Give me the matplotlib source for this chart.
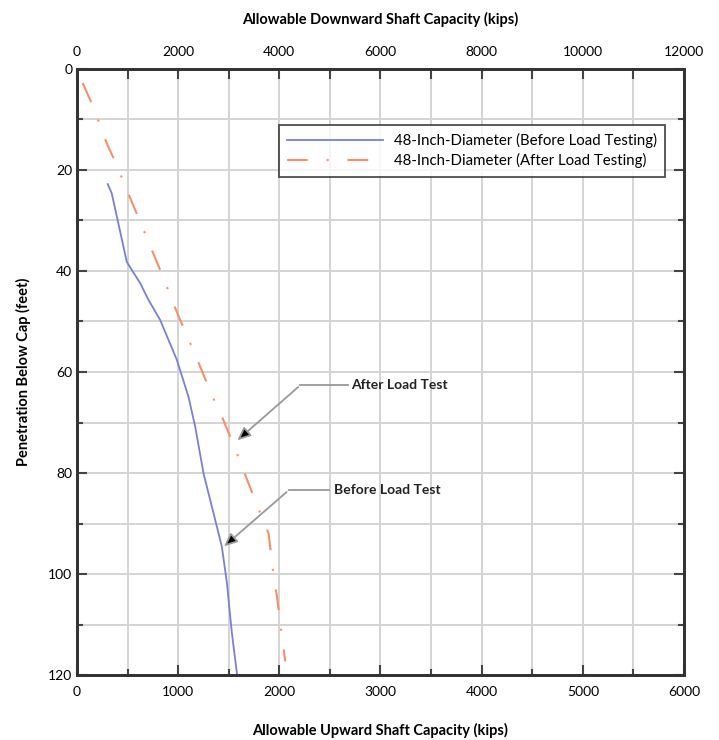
import matplotlib.pyplot as plt
from matplotlib.ticker import MultipleLocator

# Before load testing (blue, solid) - upward capacity (kips) vs depth (ft)
before_depth = [22.8, 24.6, 30.6, 38.2, 42.4, 45.7, 49.7, 57.6, 64.9, 70.8,
                80.1, 88.0, 94.6, 101.8, 111.7, 119.7]
before_cap = [304, 343, 409, 492, 624, 706, 822, 987, 1102, 1168,
              1251, 1350, 1432, 1482, 1531, 1581]

# After load testing (orange, dash-dot)
after_depth = [2.8, 6.8, 10.8, 14.7, 18.3, 22.3, 26.3, 30.2, 34.2, 41.4,
               45.7, 49.7, 57.3, 64.6, 68.8, 76.1, 80.4, 88.0, 92.0, 100.5,
               104.5, 112.4, 117.3]
after_cap = [56, 145, 221, 294, 376, 459, 541, 624, 706, 855,
             937, 1020, 1184, 1333, 1432, 1581, 1663, 1812, 1894, 1944,
             1977, 2026, 2059]

plt.rcParams['font.family'] = ['Lato', 'DejaVu Sans']

fig = plt.figure(figsize=(7.19, 7.40), dpi=100)
ax = fig.add_axes([0.1071, 0.0878, 0.8442, 0.819])

ax.plot(before_cap, before_depth, color='#7b7fd6', lw=1.3,
        label='48-Inch-Diameter (Before Load Testing)')
ax.plot(after_cap, after_depth, color='#f4906a', lw=1.5,
        linestyle=(0, (10, 9, 1, 9)),
        label='48-Inch-Diameter (After Load Testing)')

ax.set_xlim(0, 6000)
ax.set_ylim(120, 0)

ax.xaxis.set_major_locator(MultipleLocator(1000))
ax.xaxis.set_minor_locator(MultipleLocator(500))
ax.yaxis.set_major_locator(MultipleLocator(20))
ax.yaxis.set_minor_locator(MultipleLocator(10))

ax.grid(True, which='both', color='#d4d4d4', lw=1.4)
ax.set_axisbelow(True)

ax.tick_params(axis='both', which='major', direction='in', length=7, width=1.5,
               color='#444444', labelsize=10, right=True)
ax.tick_params(axis='both', which='minor', direction='in', length=4, width=1.5,
               color='#444444', right=True)
ax.tick_params(axis='x', pad=8)

for s in ax.spines.values():
    s.set_linewidth(2)
    s.set_color('#333333')

ax.set_xlabel('Allowable Upward Shaft Capacity (kips)', fontsize=10.5,
              fontweight='bold', labelpad=18)
ax.set_ylabel('Penetration Below Cap (feet)', fontsize=10.5,
              fontweight='bold', labelpad=12)

# top axis: downward capacity
ax2 = ax.twiny()
ax2.set_xlim(0, 12000)
ax2.xaxis.set_major_locator(MultipleLocator(2000))
ax2.xaxis.set_minor_locator(MultipleLocator(1000))
ax2.tick_params(axis='x', which='both', direction='in', length=7, width=1.5,
                color='#444444', labelsize=10, pad=8)
ax2.set_xlabel('Allowable Downward Shaft Capacity (kips)', fontsize=10.5,
               fontweight='bold', labelpad=16)
for s in ax2.spines.values():
    s.set_linewidth(2)
    s.set_color('#333333')

leg = ax.legend(loc='upper right', bbox_to_anchor=(0.969, 0.908), fontsize=10.8,
                frameon=True, fancybox=False, edgecolor='#222222',
                handlelength=6.4, handletextpad=0.7, borderpad=0.55,
                labelspacing=0.35, borderaxespad=0)
leg.get_frame().set_linewidth(1.3)

# callouts
ax.plot([2208, 2680], [62.6, 62.6], color='#999999', lw=1.3)
ax.annotate('', xy=(1564, 73.9), xytext=(2208, 62.6),
            arrowprops=dict(arrowstyle='-|>,head_length=0.8,head_width=0.35',
                            ec='#999999', fc='black', lw=1.3))
ax.text(2710, 62.6, 'After Load Test', fontsize=10, fontweight='bold',
        va='center', ha='left', color='#222222')

ax.plot([2093, 2490], [83.4, 83.4], color='#999999', lw=1.3)
ax.annotate('', xy=(1432, 94.9), xytext=(2093, 83.4),
            arrowprops=dict(arrowstyle='-|>,head_length=0.8,head_width=0.35',
                            ec='#999999', fc='black', lw=1.3))
ax.text(2540, 83.4, 'Before Load Test', fontsize=10, fontweight='bold',
        va='center', ha='left', color='#222222')

fig.savefig('out.png', dpi=100)
